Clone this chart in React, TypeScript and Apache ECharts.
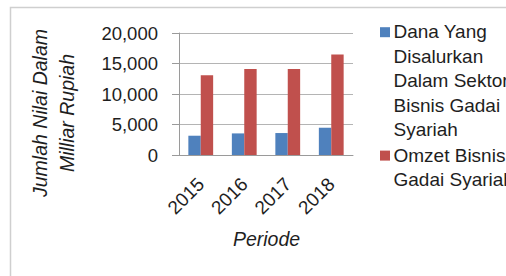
import React, { useEffect, useRef } from "react";
import * as echarts from "echarts";

const categories = ["2015", "2016", "2017", "2018"];
const seriesNames = [
  "Dana Yang Disalurkan Dalam Sektor Bisnis Gadai Syariah",
  "Omzet Bisnis Gadai Syariah",
];
const legendLabels = [
  "Dana Yang\nDisalurkan\nDalam Sektor\nBisnis Gadai\nSyariah",
  "Omzet Bisnis\nGadai Syariah",
];
const danaValues = [3160, 3540, 3600, 4470];
const omzetValues = [13080, 14110, 14110, 16460];
const yTicks = [0, 5000, 10000, 15000, 20000];
const yTitleLines = ["Jumlah Nilai Dalam", "Milliar Rupiah"];
const xTitle = "Periode";
const colors = ["#4F81BD", "#C0504D"];

const FONT = "'Liberation Sans', Arial, sans-serif";
const TEXT = "#1e1e1e";

export default function App() {
  const ref = useRef<HTMLDivElement>(null);
  useEffect(() => {
    if (!ref.current) return;
    const chart = echarts.init(ref.current, undefined, { renderer: "svg" });
    const legendTops = [19.6, 143.0];
    const option: any = {
      animation: false,
      backgroundColor: "#ffffff",
      textStyle: { fontFamily: FONT },
      grid: { left: 179, top: 33, width: 174, height: 122, containLabel: false },
      xAxis: {
        type: "category",
        data: categories,
        axisLine: { show: true, lineStyle: { color: "#9a9a9a", width: 1 } },
        axisTick: { show: false },
        axisLabel: {
          rotate: 45,
          margin: 26,
          fontSize: 19,
          color: TEXT,
          fontFamily: FONT,
          interval: 0,
        },
      },
      yAxis: {
        type: "value",
        min: yTicks[0],
        max: yTicks[yTicks.length - 1],
        interval: 5000,
        axisLine: { show: true, lineStyle: { color: "#9a9a9a", width: 1 } },
        axisTick: { show: true, length: 7, lineStyle: { color: "#9a9a9a" } },
        splitLine: { show: true, lineStyle: { color: "#b4b4b4", width: 1 } },
        axisLabel: {
          margin: 21,
          fontSize: 18.5,
          color: TEXT,
          fontFamily: FONT,
          formatter: (v: number) => v.toLocaleString("en-US"),
        },
      },
      series: [
        {
          name: seriesNames[0],
          type: "bar",
          data: danaValues,
          barWidth: 12.4,
          barGap: "0%",
          itemStyle: { color: colors[0] },
        },
        {
          name: seriesNames[1],
          type: "bar",
          data: omzetValues,
          barWidth: 12.4,
          barGap: "0%",
          itemStyle: { color: colors[1] },
        },
      ],
      graphic: [
        {
          type: "rect",
          silent: true,
          shape: { x: 10.5, y: 7.5, width: 700, height: 500 },
          style: { fill: "none", stroke: "#cfcfcf", lineWidth: 1.5 },
          z: -1,
        },
        {
          type: "text",
          x: 53.5,
          y: 113,
          rotation: Math.PI / 2,
          style: {
            text: yTitleLines.join("\n"),
            fontFamily: FONT,
            fontStyle: "italic",
            fontSize: 19.5,
            lineHeight: 27,
            align: "center",
            verticalAlign: "middle",
            fill: TEXT,
          },
        },
        {
          type: "text",
          x: 266.5,
          y: 239,
          style: {
            text: xTitle,
            fontFamily: FONT,
            fontStyle: "italic",
            fontSize: 19.5,
            align: "center",
            verticalAlign: "middle",
            fill: TEXT,
          },
        },
        ...legendLabels.flatMap((label, i) => [
          {
            type: "rect",
            shape: { x: 380, y: legendTops[i] + 7.6, width: 10, height: 10 },
            style: { fill: colors[i] },
          },
          {
            type: "text",
            x: 393.5,
            y: legendTops[i],
            style: {
              text: label,
              fontFamily: FONT,
              fontSize: 19,
              lineHeight: 24.5,
              align: "left",
              verticalAlign: "top",
              fill: TEXT,
            },
          },
        ]),
      ],
    };
    chart.setOption(option);
    return () => chart.dispose();
  }, []);
  return (
    <div
      ref={ref}
      style={{ position: "fixed", left: 0, top: 0, width: 506, height: 276 }}
    />
  );
}
